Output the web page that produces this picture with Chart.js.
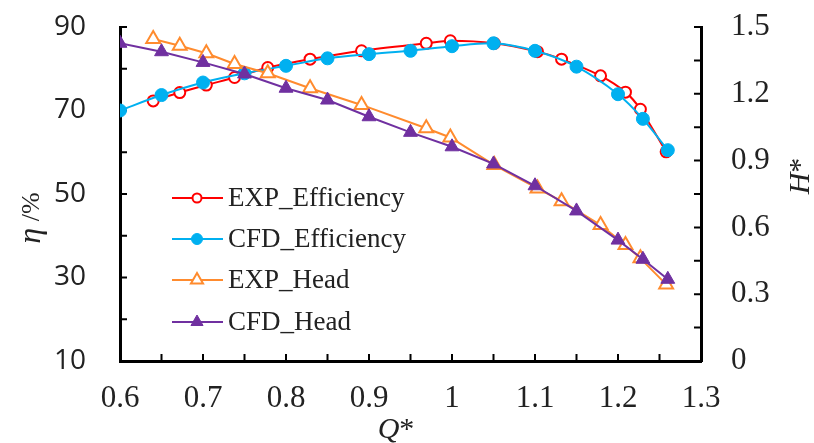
<!DOCTYPE html>
<html>
<head>
<meta charset="utf-8">
<script src="https://cdn.jsdelivr.net/npm/chart.js@4.4.1/dist/chart.umd.min.js"></script>
<style>
  html, body { margin: 0; padding: 0; background: #fff; }
  #wrap { width: 814px; height: 443px; }
</style>
</head>
<body>
<div id="wrap"><canvas id="perfChart" width="814" height="443"></canvas></div>
<script>
// measured points (Q*) and CFD points
const qExp = [0.64, 0.672, 0.704, 0.738, 0.778, 0.829, 0.891, 0.969, 0.998, 1.051, 1.103, 1.132, 1.179, 1.209, 1.227, 1.258];
const effExp = [72.3, 74.3, 76.1, 77.9, 80.3, 82.3, 84.3, 86.1, 86.7, 86.1, 84.1, 82.3, 78.3, 74.4, 70.3, 60.1];
const headExp = [1.446, 1.416, 1.382, 1.334, 1.292, 1.225, 1.150, 1.045, 1.004, 0.880, 0.775, 0.718, 0.611, 0.521, 0.461, 0.344];

const qCfd = [0.6, 0.65, 0.7, 0.75, 0.8, 0.85, 0.9, 0.95, 1.0, 1.05, 1.1, 1.15, 1.2, 1.23, 1.26];
const effCfd = [70.0, 73.7, 76.7, 78.9, 80.7, 82.5, 83.5, 84.3, 85.4, 86.1, 84.3, 80.5, 73.9, 68.0, 60.5];
const headCfd = [1.427, 1.389, 1.341, 1.289, 1.225, 1.172, 1.097, 1.027, 0.962, 0.885, 0.787, 0.674, 0.543, 0.457, 0.367];

// tick labels
const xTicks = [0.6, 0.7, 0.8, 0.9, 1, 1.1, 1.2, 1.3];
const etaTicks = [10, 30, 50, 70, 90];
const headTicks = [0, 0.3, 0.6, 0.9, 1.2, 1.5];
// small inward tick marks
const xMinor = [0.65, 0.7, 0.75, 0.8, 0.85, 0.9, 0.95, 1, 1.05, 1.1, 1.15, 1.2, 1.25];
const etaMinor = [20, 30, 40, 50, 60, 70, 80, 90];
const headMinor = [0.15, 0.3, 0.45, 0.6, 0.75, 0.9, 1.05, 1.2, 1.35, 1.5];

const pts = (xs, ys) => xs.map((x, i) => ({ x: x, y: ys[i] }));

const inwardTicks = {
  id: 'inwardTicks',
  beforeDatasetsDraw(chart) {
    const { ctx, chartArea: a, scales } = chart;
    ctx.save();
    ctx.strokeStyle = '#000';
    ctx.lineWidth = 2;
    ctx.beginPath();
    xMinor.forEach(v => {
      const x = scales.x.getPixelForValue(v);
      ctx.moveTo(x, a.bottom); ctx.lineTo(x, a.bottom - 7);
    });
    etaMinor.forEach(v => {
      const y = scales.yEta.getPixelForValue(v);
      ctx.moveTo(a.left, y); ctx.lineTo(a.left + 7, y);
    });
    headMinor.forEach(v => {
      const y = scales.yHead.getPixelForValue(v);
      ctx.moveTo(a.right, y); ctx.lineTo(a.right - 7, y);
    });
    ctx.stroke();
    ctx.restore();
  }
};

function marker(ctx, style, r, x, y) {
  ctx.beginPath();
  if (style === 'circle') {
    ctx.arc(x, y, r, 0, Math.PI * 2);
  } else {
    for (let k = 0; k < 3; k++) {
      const ang = k * 2 * Math.PI / 3;
      const px = x + Math.sin(ang) * r, py = y - Math.cos(ang) * r;
      k === 0 ? ctx.moveTo(px, py) : ctx.lineTo(px, py);
    }
    ctx.closePath();
  }
  ctx.fill();
  ctx.stroke();
}

const legendBox = {
  id: 'legendBox',
  afterDatasetsDraw(chart) {
    const ctx = chart.ctx;
    const rows = [198, 239, 280, 322];
    chart.data.datasets.forEach((ds, i) => {
      const y = rows[i];
      ctx.save();
      ctx.strokeStyle = ds.borderColor;
      ctx.lineWidth = ds.borderWidth;
      ctx.beginPath(); ctx.moveTo(172, y); ctx.lineTo(223, y); ctx.stroke();
      ctx.fillStyle = ds.pointBackgroundColor;
      ctx.strokeStyle = ds.pointBorderColor;
      ctx.lineWidth = ds.pointBorderWidth;
      marker(ctx, ds.pointStyle, ds.pointRadius - 1, 197, y);
      ctx.font = '27px "Liberation Serif"';
      ctx.fillStyle = '#222';
      ctx.textBaseline = 'middle';
      ctx.fillText(ds.label, 228, y + 1);
      ctx.restore();
    });
  }
};

function mixedText(ctx, parts, cx, cy, rot) {
  ctx.save();
  ctx.translate(cx, cy);
  ctx.rotate(rot);
  ctx.textBaseline = 'middle';
  ctx.textAlign = 'left';
  let total = 0;
  parts.forEach(p => { ctx.font = p[0]; total += ctx.measureText(p[1]).width; });
  let x = -total / 2;
  parts.forEach(p => { ctx.font = p[0]; ctx.fillText(p[1], x, 0); x += ctx.measureText(p[1]).width; });
  ctx.restore();
}

const axisTitles = {
  id: 'axisTitles',
  afterDraw(chart) {
    const ctx = chart.ctx;
    ctx.save();
    ctx.fillStyle = '#222';
    mixedText(ctx, [['italic 32px "Liberation Serif"', 'η'], ['26px "Liberation Serif"', ' /%']], 32, 218, -Math.PI / 2);
    mixedText(ctx, [['italic 30px "Liberation Serif"', 'H'], ['30px "Liberation Serif"', '*']], 801, 176, -Math.PI / 2);
    mixedText(ctx, [['italic 30px "Liberation Serif"', 'Q'], ['30px "Liberation Serif"', '*']], 396, 430, 0);
    ctx.restore();
  }
};

const serifTick = { family: 'Liberation Serif', size: 31 };
const noEdgePad = s => { s.paddingTop = 0; s.paddingBottom = 0; s.paddingLeft = 0; s.paddingRight = 0; };

new Chart(document.getElementById('perfChart'), {
  type: 'line',
  data: {
    datasets: [
      {
        label: 'EXP_Efficiency', data: pts(qExp, effExp), yAxisID: 'yEta',
        borderColor: '#FF0000', borderWidth: 2, tension: 0.3,
        pointStyle: 'circle', pointRadius: 5.5, pointBorderWidth: 2,
        pointBackgroundColor: '#FFFFFF', pointBorderColor: '#FF0000', order: 4
      },
      {
        label: 'CFD_Efficiency', data: pts(qCfd, effCfd), yAxisID: 'yEta',
        borderColor: '#00B0F0', borderWidth: 2, tension: 0.3,
        pointStyle: 'circle', pointRadius: 6.5, pointBorderWidth: 1,
        pointBackgroundColor: '#00B0F0', pointBorderColor: '#00B0F0', order: 3
      },
      {
        label: 'EXP_Head', data: pts(qExp, headExp), yAxisID: 'yHead',
        borderColor: '#FF8B2E', borderWidth: 2, tension: 0,
        pointStyle: 'triangle', pointRadius: 8, pointBorderWidth: 2,
        pointBackgroundColor: '#FFFFFF', pointBorderColor: '#FF8B2E', order: 2
      },
      {
        label: 'CFD_Head', data: pts(qCfd, headCfd), yAxisID: 'yHead',
        borderColor: '#7030A0', borderWidth: 2, tension: 0,
        pointStyle: 'triangle', pointRadius: 8, pointBorderWidth: 1,
        pointBackgroundColor: '#7030A0', pointBorderColor: '#7030A0', order: 1
      }
    ]
  },
  options: {
    responsive: false,
    animation: false,
    events: [],
    layout: { padding: { top: 27, left: 0, right: 0, bottom: 0 } },
    plugins: { legend: { display: false }, tooltip: { enabled: false } },
    scales: {
      x: {
        type: 'linear', min: 0.6, max: 1.3,
        grid: { display: false },
        border: { display: true, color: '#000', width: 3 },
        ticks: { font: serifTick, color: '#222', padding: 11, autoSkip: false, maxRotation: 0, callback: v => String(v) },
        afterBuildTicks: s => { s.ticks = xTicks.map(v => ({ value: v })); },
        afterFit: s => { s.height = 82; noEdgePad(s); }
      },
      yEta: {
        type: 'linear', position: 'left', min: 10, max: 90,
        grid: { display: false },
        border: { display: true, color: '#000', width: 3 },
        ticks: { font: { family: 'Open Sans', size: 28 }, color: '#222', padding: 26, callback: v => String(v) },
        afterBuildTicks: s => { s.ticks = etaTicks.map(v => ({ value: v })); },
        afterFit: s => { s.width = 120; noEdgePad(s); }
      },
      yHead: {
        type: 'linear', position: 'right', min: 0, max: 1.5,
        grid: { display: false },
        border: { display: true, color: '#000', width: 3 },
        ticks: { font: serifTick, color: '#222', padding: 22, callback: v => String(v) },
        afterBuildTicks: s => { s.ticks = headTicks.map(v => ({ value: v })); },
        afterFit: s => { s.width = 113; noEdgePad(s); }
      }
    }
  },
  plugins: [inwardTicks, legendBox, axisTitles]
});
</script>
</body>
</html>
